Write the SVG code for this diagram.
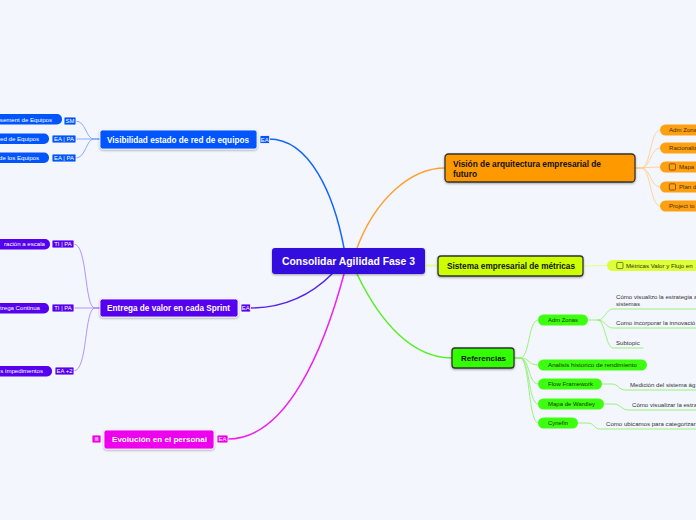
<svg xmlns="http://www.w3.org/2000/svg" width="696" height="520" viewBox="0 0 696 520">
<defs>
<filter id="sh" x="-10%" y="-30%" width="120%" height="170%">
<feDropShadow dx="0" dy="1" stdDeviation="0.8" flood-color="#000" flood-opacity="0.35"/>
</filter>
</defs>
<style>
.nt{font-family:"Liberation Sans",Arial,sans-serif;font-weight:bold;}
.wt{fill:#fff;}
.bt{fill:#111;}
.pt{font-family:"Liberation Sans",Arial,sans-serif;font-size:6.1px;}
.tg{font-family:"Liberation Sans",Arial,sans-serif;font-size:5.9px;fill:#fff;text-anchor:middle;}
.ct{font-family:"Liberation Sans",Arial,sans-serif;font-size:6.1px;fill:#333;}
.lw{stroke:#fff;stroke-width:0.8;}
.dk{stroke:#333;stroke-width:1.3;}
.cb{fill:none;stroke:#5a3a10;stroke-width:0.7;}
path{fill:none;}
</style>
<rect width="696" height="520" fill="#f3f6fd"/>

<g id="connectors" stroke-linecap="round">
<path d="M269,139 C310,139 334,195 344,248" stroke="#1166ff" stroke-width="1.5"/>
<path d="M357,248 C375,200 410,168 445,168" stroke="#ffa030" stroke-width="1.5"/>
<path d="M425,265.5 L438,265.5" stroke="#e2ff88" stroke-width="1.8"/>
<path d="M357,274 C380,322 412,358 452,358" stroke="#55f022" stroke-width="1.5"/>
<path d="M332,274 C310,296 282,308 250,308" stroke="#5522ee" stroke-width="1.5"/>
<path d="M344,274 C325,345 288,439 228,439" stroke="#ee22ee" stroke-width="1.5"/>
<g stroke="#7fa2ff" stroke-width="0.9">
<path d="M100,139 L94,139 C86,139 86,121 76,121"/>
<path d="M100,139 L76,139"/>
<path d="M100,139 L94,139 C86,139 86,158 76,158"/>
</g>
<g stroke="#a88aff" stroke-width="0.9">
<path d="M100,308 L95,308 C84,308 88,244 74,244"/>
<path d="M100,308 L74,308"/>
<path d="M100,308 L95,308 C84,308 88,371 74,371"/>
</g>
<g stroke="#ffcf90" stroke-width="0.9">
<path d="M635,168 L641,168 C651,168 650,130 660,130"/>
<path d="M635,168 L641,168 C651,168 650,148 660,148"/>
<path d="M635,168 L660,167"/>
<path d="M635,168 L641,168 C651,168 650,187 660,187"/>
<path d="M635,168 L641,168 C651,168 650,206 660,206"/>
</g>
<path d="M583,266 L607,265.5" stroke="#e2ff88" stroke-width="1.2"/>
<g stroke="#8ff070" stroke-width="0.9">
<path d="M514,358 L520,358 C530,358 528,320 538,320"/>
<path d="M514,358 L520,358 C530,358 528,365 538,365"/>
<path d="M514,358 L520,358 C530,358 528,384 538,384"/>
<path d="M514,358 L520,358 C530,358 528,404 538,404"/>
<path d="M514,358 L520,358 C530,358 528,423 538,423"/>
<path d="M588,320 L598,320 C605,320 606,309 613,309 L696,309"/>
<path d="M598,320 C605,320 606,328 613,328 L696,328"/>
<path d="M598,320 C605,320 606,348 613,348 L643,348"/>
<path d="M602,384 L612,384 C618,384 619,390 625,390 L696,390"/>
<path d="M604,404 L614,404 C620,404 622,410 628,410 L696,410"/>
<path d="M578,423 L588,423 C594,423 594,429 600,429 L696,429"/>
</g>
</g>

<g id="node-center">
<rect x="272" y="248" width="153" height="26" rx="3" fill="#3311dd" filter="url(#sh)"/>
<text x="282" y="265" class="nt wt" font-size="10.3" textLength="133" lengthAdjust="spacingAndGlyphs">Consolidar Agilidad Fase 3</text>
</g>

<g id="node-visibilidad">
<rect x="100" y="130" width="157" height="19" rx="2.5" fill="#0055ff" class="lw" filter="url(#sh)"/>
<text x="107" y="142.5" class="nt wt" font-size="8.2" textLength="142" lengthAdjust="spacingAndGlyphs">Visibilidad estado de red de equipos</text>
<rect x="260" y="135.5" width="9.5" height="8" rx="1" fill="#0055ff" class="lw"/>
<text x="264.8" y="141.7" class="tg">EA</text>
</g>
<g id="node-vis-1">
<rect x="-10" y="114" width="72" height="10.5" rx="5" fill="#0055ff"/>
<text x="52" y="121.5" class="pt wt" text-anchor="end">ssement de Equipos</text>
<rect x="64" y="117" width="12" height="8" rx="1" fill="#0055ff" class="lw"/>
<text x="70" y="123.1" class="tg">SM</text>
</g>
<g id="node-vis-2">
<rect x="-10" y="133.5" width="59" height="10.5" rx="5" fill="#0055ff"/>
<text x="39" y="141" class="pt wt" text-anchor="end">red de Equipos</text>
<rect x="52" y="135" width="24" height="8" rx="1" fill="#0055ff" class="lw"/>
<text x="64" y="141.1" class="tg">EA | PA</text>
</g>
<g id="node-vis-3">
<rect x="-10" y="152.5" width="59" height="10.5" rx="5" fill="#0055ff"/>
<text x="39" y="160" class="pt wt" text-anchor="end">de los Equipos</text>
<rect x="52" y="154" width="24" height="8" rx="1" fill="#0055ff" class="lw"/>
<text x="64" y="160.1" class="tg">EA | PA</text>
</g>

<g id="node-entrega">
<rect x="100" y="299" width="138" height="18" rx="2.5" fill="#5500ee" class="lw" filter="url(#sh)"/>
<text x="107" y="311" class="nt wt" font-size="8.2" textLength="123" lengthAdjust="spacingAndGlyphs">Entrega de valor en cada Sprint</text>
<rect x="241" y="304" width="9.5" height="8" rx="1" fill="#5500ee" class="lw"/>
<text x="245.8" y="310.2" class="tg">EA</text>
</g>
<g id="node-ent-1">
<rect x="-10" y="239" width="60" height="10.5" rx="5" fill="#5500ee"/>
<text x="45" y="246.3" class="pt wt" text-anchor="end">ración a escala</text>
<rect x="52" y="240" width="22" height="8" rx="1" fill="#5500ee" class="lw"/>
<text x="63" y="246.1" class="tg">TI | PA</text>
</g>
<g id="node-ent-2">
<rect x="-10" y="303" width="59" height="10.5" rx="5" fill="#5500ee"/>
<text x="40" y="310.3" class="pt wt" text-anchor="end">trega Continua</text>
<rect x="52" y="304" width="22" height="8" rx="1" fill="#5500ee" class="lw"/>
<text x="63" y="310.1" class="tg">TI | PA</text>
</g>
<g id="node-ent-3">
<rect x="-10" y="366" width="62" height="10.5" rx="5" fill="#5500ee"/>
<text x="43" y="373.3" class="pt wt" text-anchor="end">s impedimentos</text>
<rect x="55" y="367" width="19" height="8" rx="1" fill="#5500ee" class="lw"/>
<text x="64.5" y="373.1" class="tg">EA +2</text>
</g>

<g id="node-evolucion">
<rect x="104" y="430" width="110" height="19" rx="2.5" fill="#ee00ee" class="lw" filter="url(#sh)"/>
<text x="112" y="442.3" class="nt wt" font-size="8.1" textLength="95" lengthAdjust="spacingAndGlyphs">Evolución en el personal</text>
<rect x="217" y="435" width="11" height="8" rx="1" fill="#ee00ee" class="lw"/>
<text x="222.5" y="441.2" class="tg">EA</text>
<rect x="92" y="435" width="9" height="8" rx="1" fill="#ee00ee" class="lw"/>
<rect x="94.8" y="437.2" width="3.6" height="3.6" fill="#ff99ff"/>
</g>

<g id="node-vision">
<rect x="445" y="154" width="190" height="28" rx="3.5" fill="#ff9900" class="dk" filter="url(#sh)"/>
<text x="453" y="167.3" class="nt bt" font-size="8.3" textLength="148" lengthAdjust="spacingAndGlyphs">Visión de arquitectura empresarial de</text>
<text x="453" y="176.5" class="nt bt" font-size="8.3">futuro</text>
</g>
<g id="node-vis-o1">
<rect x="660" y="124.5" width="60" height="11" rx="5.5" fill="#ffa010"/>
<text x="669" y="132.2" class="pt" fill="#4a2c05">Adm Zonas</text>
</g>
<g id="node-vis-o2">
<rect x="660" y="142.5" width="60" height="11" rx="5.5" fill="#ffa010"/>
<text x="669" y="150.2" class="pt" fill="#4a2c05">Racionaliz</text>
</g>
<g id="node-vis-o3">
<rect x="660" y="161.5" width="60" height="11" rx="5.5" fill="#ffa010"/>
<rect x="669.3" y="163.8" width="6.2" height="6.2" rx="1" class="cb"/>
<text x="679" y="169.2" class="pt" fill="#4a2c05">Mapa d</text>
</g>
<g id="node-vis-o4">
<rect x="660" y="181.5" width="60" height="11" rx="5.5" fill="#ffa010"/>
<rect x="669.3" y="183.8" width="6.2" height="6.2" rx="1" class="cb"/>
<text x="679" y="189.2" class="pt" fill="#4a2c05">Plan d</text>
</g>
<g id="node-vis-o5">
<rect x="660" y="200.5" width="60" height="11" rx="5.5" fill="#ffa010"/>
<text x="669" y="208.2" class="pt" fill="#4a2c05">Project to</text>
</g>

<g id="node-sistema">
<rect x="438" y="256" width="145" height="20" rx="3" fill="#ccff00" class="dk" filter="url(#sh)"/>
<text x="447" y="269" class="nt bt" font-size="8.2" textLength="128" lengthAdjust="spacingAndGlyphs">Sistema empresarial de métricas</text>
</g>
<g id="node-metricas">
<rect x="607" y="260" width="100" height="11" rx="5.5" fill="#ddff3a"/>
<rect x="616.8" y="262.4" width="6.2" height="6.2" rx="1" fill="none" stroke="#445500" stroke-width="0.7"/>
<text x="626" y="267.8" class="pt" fill="#2a3300">Métricas Valor y Flujo en</text>
</g>

<g id="node-referencias">
<rect x="452" y="348" width="62" height="20" rx="3" fill="#33ff00" class="dk" filter="url(#sh)"/>
<text x="461" y="361" class="nt bt" font-size="8" textLength="45" lengthAdjust="spacingAndGlyphs">Referencias</text>
</g>
<g id="node-admzonas">
<rect x="538" y="314.5" width="50" height="11" rx="5.5" fill="#3dff10"/>
<text x="548" y="322.2" class="pt" fill="#1a3300" textLength="30" lengthAdjust="spacingAndGlyphs">Adm Zonas</text>
</g>
<g id="node-adm-1">
<text x="616" y="299" class="ct">Cómo visualizo la estrategia a</text>
<text x="616" y="306" class="ct">sistemas</text>
</g>
<g id="node-adm-2">
<text x="616" y="325.2" class="ct">Como incorporar la innovació</text>
</g>
<g id="node-adm-3">
<text x="616" y="345.2" class="ct">Subtopic</text>
</g>
<g id="node-analisis">
<rect x="538" y="359.5" width="109" height="11" rx="5.5" fill="#3dff10"/>
<text x="548" y="367.2" class="pt" fill="#1a3300" textLength="89" lengthAdjust="spacingAndGlyphs">Analisis historico de rendimiento</text>
</g>
<g id="node-flow">
<rect x="538" y="378.5" width="64" height="11" rx="5.5" fill="#3dff10"/>
<text x="548" y="386.2" class="pt" fill="#1a3300" textLength="45" lengthAdjust="spacingAndGlyphs">Flow Framework</text>
</g>
<g id="node-flow-1">
<text x="630" y="386.7" class="ct">Medición del sistema ág</text>
</g>
<g id="node-wardley">
<rect x="538" y="398.5" width="66" height="11" rx="5.5" fill="#3dff10"/>
<text x="548" y="406.2" class="pt" fill="#1a3300" textLength="47" lengthAdjust="spacingAndGlyphs">Mapa de Wardley</text>
</g>
<g id="node-wardley-1">
<text x="632" y="406.7" class="ct">Cómo visualizar la estra</text>
</g>
<g id="node-cynefin">
<rect x="538" y="417.5" width="40" height="11" rx="5.5" fill="#3dff10"/>
<text x="548" y="425.2" class="pt" fill="#1a3300" textLength="20" lengthAdjust="spacingAndGlyphs">Cynefin</text>
</g>
<g id="node-cynefin-1">
<text x="606" y="425.7" class="ct">Como ubicamos para categorizar</text>
</g>
</svg>
